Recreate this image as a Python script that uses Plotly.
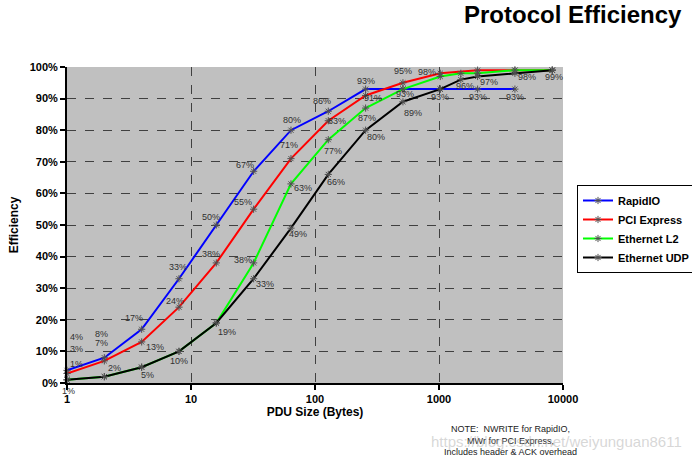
import math
import plotly.graph_objects as go

# ---- data ----
x_rio = [1, 2, 4, 8, 16, 32, 64, 128, 256, 512, 1024, 2048, 4096]
y_rio = [4, 8, 17, 33, 50, 67, 80, 86, 93, 93, 93, 93, 93]
t_rio = ["4%", "8%", "17%", "33%", "50%", "67%", "80%", "86%", "93%", "", "93%", "93%", "93%"]

x_pci = [1, 2, 4, 8, 16, 32, 64, 128, 256, 512, 1024, 2048, 4096, 8192]
y_pci = [3, 7, 13, 24, 38, 55, 71, 83, 91, 95, 98, 99, 99, 99]
t_pci = ["3%", "7%", "13%", "24%", "38%", "55%", "71%", "83%", "91%", "95%", "98%", "", "", ""]

x_eth = [1, 2, 4, 8, 16, 32, 64, 128, 256, 512, 1024, 1500, 2048, 4096, 8192]
y_l2 = [1, 2, 5, 10, 19, 38, 63, 77, 87, 93, 97, 98, 98, 99, 99]
t_l2 = ["1%", "", "", "", "", "38%", "63%", "77%", "87%", "93%", "", "", "", "", ""]

y_udp = [1, 2, 5, 10, 19, 33, 49, 66, 80, 89, 93, 96, 97, 98, 99]
t_udp = ["1%", "2%", "5%", "10%", "19%", "33%", "49%", "66%", "80%", "89%", "", "96%", "97%", "98%", "99%"]

y_ticks = [0, 10, 20, 30, 40, 50, 60, 70, 80, 90, 100]
x_ticks = [1, 10, 100, 1000, 10000]

# ---- label offsets (style: pixels right / up from the marker) ----
o_rio = [(9, 33), (-3, 24), (-8, 11), (-1, 12), (-5, 8), (-9, 6), (1, 10), (-6, 10), (0, 8),
         (0, 0), (0, -8), (0, -8), (0, -8)]
o_pci = [(9, 25), (-3, 18), (13, -5), (-4, 6), (-5, 9), (-11, 7), (-2, 14), (9, 0), (7, -3),
         (0, 12), (-13, 1), (0, 0), (0, 0), (0, 0)]
o_l2 = [(9, 16), (0, 0), (0, 0), (0, 0), (0, 0), (-11, 3), (12, -4), (5, -11), (1, -10),
        (2, -5), (0, 0), (0, 0), (0, 0), (0, 0), (0, 0)]
o_udp = [(1, -11), (10, 9), (6, -8), (0, -10), (11, -9), (11, -5), (7, -6), (8, -8), (10, -7),
         (10, -11), (0, 0), (4, -6), (11, -6), (12, -4), (2, -7)]

FONT = "Liberation Sans, Arial, sans-serif"

fig = go.Figure()
annotations = []


def add(name, xs, ys, ts, offs, color):
    fig.add_trace(go.Scatter(
        x=xs, y=[v / 100 for v in ys], name=name, mode="lines+markers", cliponaxis=False,
        line=dict(color=color, width=2),
        marker=dict(symbol="asterisk-open", size=6, color="#505050",
                    line=dict(color="#505050", width=1)),
    ))
    for xv, yv, tv, (dx, dy) in zip(xs, ys, ts, offs):
        if tv:
            annotations.append(dict(
                x=math.log10(xv), y=yv / 100, xref="x", yref="y", text=tv, showarrow=False,
                xshift=dx, yshift=dy, font=dict(family=FONT, size=9, color="#303030")))


add("RapidIO", x_rio, y_rio, t_rio, o_rio, "#0000FF")
add("PCI Express", x_pci, y_pci, t_pci, o_pci, "#FF0000")
add("Ethernet L2", x_eth, y_l2, t_l2, o_l2, "#00FF00")
add("Ethernet UDP", x_eth, y_udp, t_udp, o_udp, "#000000")

annotations += [
    dict(text="<b>Protocol Efficiency</b>", xref="paper", yref="paper",
         x=(684 - 67) / 496, y=(383 - 14) / 316, xanchor="right", yanchor="middle",
         showarrow=False, font=dict(family="Liberation Sans Narrow, Liberation Sans, Arial", size=24, color="black")),
    dict(text="NOTE:  NWRITE for RapidIO,<br>MWr for PCI Express,<br>Includes header & ACK overhead",
         xref="paper", yref="paper", x=(510 - 67) / 496, y=(383 - 440) / 316,
         xanchor="center", yanchor="middle", showarrow=False, align="center",
         font=dict(family=FONT, size=9, color="#222222")),
    dict(text="https://blog.csdn.net/weiyunguan8611", xref="paper", yref="paper",
         x=(684 - 67) / 496, y=(383 - 441) / 316, xanchor="right", yanchor="middle",
         showarrow=False, font=dict(family=FONT, size=15, color="rgba(175,175,175,0.5)")),
]

fig.update_layout(
    width=692, height=461,
    margin=dict(l=67, r=129, t=67, b=78, autoexpand=False),
    paper_bgcolor="white", plot_bgcolor="#C0C0C0",
    font=dict(family=FONT, color="black"),
    showlegend=True,
    legend=dict(x=(577 - 67) / 496, y=(383 - 185) / 316, xanchor="left", yanchor="top",
                bgcolor="white", bordercolor="black", borderwidth=1,
                font=dict(family=FONT, size=11, color="black", weight="bold"),
                itemwidth=30, tracegroupgap=0),
    annotations=annotations,
)

fig.update_xaxes(
    type="log", range=[0, 4], tickvals=x_ticks, ticktext=[str(v) for v in x_ticks],
    tickfont=dict(family=FONT, size=11, color="black", weight="bold"),
    title=dict(text="<b>PDU Size (Bytes)</b>", font=dict(family=FONT, size=12, color="black"), standoff=2),
    showline=True, linecolor="black", linewidth=2, ticks="outside", ticklen=5, tickwidth=2, tickcolor="black",
    showgrid=True, gridcolor="#404040", griddash="dash", gridwidth=1, zeroline=False,
)
fig.update_yaxes(
    range=[0, 1], tickvals=[v / 100 for v in y_ticks], ticktext=[f"{v}%" for v in y_ticks],
    tickfont=dict(family=FONT, size=11, color="black", weight="bold"),
    title=dict(text="<b>Efficiency</b>", font=dict(family=FONT, size=12, color="black"), standoff=8),
    showline=True, linecolor="black", linewidth=2, ticks="outside", ticklen=5, tickwidth=2, tickcolor="black",
    showgrid=True, gridcolor="#404040", griddash="dash", gridwidth=1, zeroline=False,
)

fig.write_html("out.html", config={"displayModeBar": False},
               post_script="document.body.style.margin='0';document.body.style.overflow='hidden';")
